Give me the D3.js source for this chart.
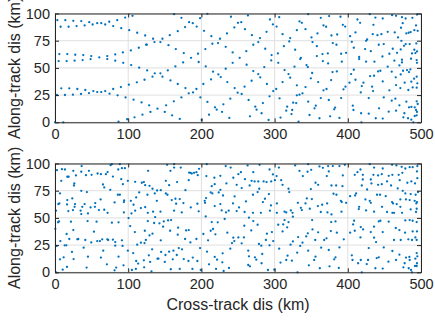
<!DOCTYPE html>
<html><head><meta charset="utf-8">
<script src="https://cdn.jsdelivr.net/npm/d3@7"></script>
<style>
body{margin:0;background:#fff}
svg{display:block}
text{font-family:"Liberation Sans",Arial,Helvetica,sans-serif}
</style>
</head><body>
<svg id="c" width="435" height="323"></svg>
<script>
const xTicks = [0, 100, 200, 300, 400, 500];
const yTicks = [0, 25, 50, 75, 100];
const xLabel = "Cross-track dis (km)";
const yLabel = "Along-track dis (km)";

// [cross-track km, along-track km]
const topPoints = [
[3.2,93.9],[14.1,93.9],[25,93.3],[35.9,93],[46.8,92],[57.7,91.1],[63.2,91.1],[74.1,92.4],[85,93.9],[95.9,96.3],[105.9,97.9],
[7.7,87.8],[18.6,87.8],[29.5,88.4],[40.5,89],[51.4,89.9],[68.6,89.9],[79.5,88.4],[90.5,86.5],[101.4,84.7],[112.3,82.3],[123.2,79.8],
[5.9,62.7],[16.8,62.7],[27.7,62.1],[38.6,61.8],[49.5,60.9],[60.5,59.6],[71.4,60.9],[82.3,62.4],[92.7,64.2],[103.6,66.1],[114.5,68.5],[124.5,71.3],
[5,56.3],[15.9,56.3],[26.8,56.6],[37.7,57.2],[48.6,58.1],[71.4,58.1],[82.3,56.6],[93.2,54.7],[104.1,52.6],[115,50.2],
[8.6,31.2],[19.5,31.2],[30.5,30.6],[41.4,29.7],[52.3,28.7],[57.7,27.8],[63.2,27.8],[68.6,28.7],[79.5,30.6],[90,32.4],[100.9,34.6],[111.8,36.7],[122.3,39.1],
[2.7,25.1],[13.6,25.1],[24.5,25.4],[35.5,26],[46.4,26.9],[74.5,26.3],[85.5,24.8],[96.4,22.9],[107.3,20.8],[118.2,18.3],
[0,0],[11.4,0],[86.8,0.6],[98.6,2.8],[108.6,4.6],[119.5,7],
[162.7,99.4],[172.7,96],[183.2,92],[188.2,91.1],[193.6,88],[198.2,95.7],[208.2,99.7],[177.7,87.5],[167.7,83.8],[156.8,80.1],[134,76.8],[135.9,73.7],[144,73.7],[146.8,76.8],[125.4,71.3],[155,70.9],[165,67.3],[175.9,63.6],[185.9,59.3],[195.4,63],[196.3,55.4],[175,55],[164.5,51.4],[154.1,47.7],[125.9,47.7],[136.3,45],[144,45],[133.2,41.9],[146.8,41.9],[157.7,38.5],[167.7,35.2],[178.2,31.5],[188.6,27.5],[193.2,30.6],[182.7,26.6],[172.7,22.9],[162.3,19.3],[151.8,15.6],[128.6,15.6],[140,12.5],[130.4,9.5],[150,9.5],[160,6.4],[170.4,3.1],[200.4,2.1],[198.6,22.9],[202.7,35.2],[203.6,84.1],[205.9,51.4],[205.4,67.3],[213.6,79.2],[215,72.2],[222.7,72.8],[225.4,76.8],[233.2,69.4],[235,81.7],[240.4,97],[245,87.2],[250,91.4],[242.7,64.2],[242.7,54.7],[252.3,59.3],[233.2,49.2],[215.9,46.5],[223.2,44],[226.4,41.6],[213.2,39.4],[235.4,37],[245.4,31.5],[249.5,27.2],[239.5,21.7],[208.2,18.7],[230,16.5],[218.6,13.8],[220.9,11.6],[210.4,7],[228.2,9.5],[238.2,4],
[263.6,98.2],[254.5,92],[293.6,94.5],[297.7,90],[306.3,96.6],[302.7,88],[259.5,85.6],[269,80.1],[280,77.4],[289,83.2],[277.7,73.7],[270.9,71.3],[287.2,67.6],[261.3,65.4],[295.9,61.8],[295.4,56.9],[304.5,63.3],[305,54.7],[261.8,52.9],[285.9,50.8],[270.9,47.1],[277.7,44.3],[280.4,41.3],[268.6,38.2],[289.5,35.2],[259,32.7],[298.1,28.7],[302.2,30.6],[293.1,23.9],[255,26],[264.5,20.5],[284,17.7],[273.6,14.4],[275.4,11.6],[282.2,8.3],[266.3,5.5],[291.8,2.1],[308.1,4.3],[306.8,22],[313.6,48],[319,44.3],[321.3,41],[310.9,37],[330.4,34],[329.5,17.7],[325.4,18],[334,25.4],[338.1,26.6],[342.2,32.4],[345.9,19],[351.3,45.3],[349.5,40.4],[345.4,50.8],[359.5,37],[370.9,30.6],[377.2,38.8],[366.8,29.4],[363.1,22.3],[374,20.5],[356.3,15.3],[354.5,12.8],[347.7,6.7],[361.3,3.7],[375.9,5.5],[332.7,0.6],[324.1,11.3],[317.2,14.4],[315.9,10.7],[323.1,7.6],[330.4,24.8],[327.2,51.1],[310.9,81],[321.3,77.4],[320,74.3],[312.7,70],[330.4,84.7],[334,92.7],[337.2,91.4],[342.2,85.6],[345.9,99.4],[350.4,78],[351.8,73.7],[357.7,70],[358.6,81.7],[363.1,96],[366.8,89],[370.4,87.8],[374.5,97.6],[377.7,79.8],[328.1,66.7],[335.9,59.3],[335,58.1],[343.6,52.6],[365.4,62.7],[372.7,63.3],[365.9,56.3],[373.1,54.1],[357.7,60.9],
[390,97],[413.2,94.5],[416.8,91.4],[430,99.4],[437.7,96.3],[435,89.6],[447.7,95.4],[460.5,98.5],[465.9,97.9],[474,96.6],[479,95.4],[488.2,96],[494.5,99],[393.2,89.6],[396.4,88],[385.5,80.7],[410.5,82.6],[426.4,76.1],[425,74.9],[434.1,81],[440.5,80.1],[445.9,81],[454.5,83.2],[464.1,82.6],[475,91.1],[472.7,86.9],[483.2,82.3],[485.9,82.9],[480,81.7],[493.2,89],[495.5,84.1],[490.9,84.7],[468.6,78],[473.2,74.9],[484.5,71.9],[479.1,71.9],[493.6,72.5],[379.5,72.8],[384.5,71.3],[403.2,79.2],[405.5,74],[423.6,67.3],[415.5,60],[415.5,58.1],[390.9,63],[397.7,63.9],[391.8,55.7],[408.2,68.5],[431.4,65.4],[442.3,71.3],[449.1,71.9],[461.4,67.6],[467.3,63.9],[472.3,67],[476.8,70.3],[490.9,66.7],[494.5,65.1],[492.3,63.6],[487.7,63.3],[456.8,63],[463.6,56.6],[474,57.5],[474,55],[486.4,58.4],[494.1,57.2],[494.5,54.7],[425,55.7],[436.4,55.7],[447.3,60.5],[454.5,51.1],[470.5,52.3],[379.1,46.2],[385,46.8],[408.2,48.3],[404.5,44.3],[410.5,39.1],[421.4,36.4],[402.3,36.4],[394.1,30.3],[396.8,32.7],[441.4,46.8],[444.5,47.4],[435.9,42.8],[430.5,42.5],[447.7,37.6],[460,46.5],[465.5,41.3],[472.3,44],[475.5,47.4],[480.9,48],[485.5,48.6],[483.6,46.2],[477.7,36.4],[486.8,37.3],[490.5,40.1],[494.1,41.9],[495,35.8],[494.1,31.8],[488.6,32.1],[482.7,29.7],[465.9,34.2],[471.8,31.5],[456.8,29.4],[449.1,22.9],[433.2,32.7],[434.5,28.7],[428.6,22.3],[417.7,27.5],[419.1,33.3],[390.9,22.3],[382.7,13.5],[381.4,11.9],[388.6,4],[406.8,15.3],[407.7,11.3],[418.2,8.3],[418.6,0],[428.6,7.9],[438.2,3.7],[442.7,12.8],[447.7,3.4],[455.9,9.8],[460,19.9],[470.5,15.6],[465,21.7],[480,19],[483.6,13.8],[486.8,14.1],[491.4,13.8],[494.1,19.3],[495.5,16.8],[493.2,11.3],[494.5,9.5],[465.9,10.7],[477.3,8.3],[475.9,4.6],[482.3,3.7],[486.8,2.4],[491.4,5.8],[494.1,6.4],[489.5,0]
];

const bottomPoints = [
[2.7,93.9],[9.5,94.8],[13.6,94.5],[16.8,87.8],[18.6,87.8],[8.6,84.1],[25,93.3],[26.4,81.7],[25.9,79.8],[28.6,89],[36.4,97.6],[35.9,92.4],[42.3,89.3],[46.4,93.3],[50,89.6],[58.2,90.8],[62.7,90.2],[69.5,90.2],[71.8,92.1],[75.9,98.5],[77.7,99.4],[79.1,88],[86.4,94.5],[91.4,95.7],[95.5,95.7],[90.5,85.6],[92.7,81],[99.5,84.1],[109.5,83.2],[118.6,82.3],[121.4,82.9],[65.5,80.7],[67.3,78],[75.5,75.8],[35.9,74.9],[43.6,73.7],[6.8,72.5],[5.9,63.3],[4.5,62.7],[16.8,66.4],[16.4,62.4],[23.6,67.9],[27.3,62.7],[40.5,62.7],[37.3,60.2],[18.2,56.3],[24.5,57.2],[26.8,60.2],[35,56.6],[35.9,53.5],[45,54.1],[48.6,59.6],[54.5,60.2],[55,63.6],[62.3,67],[60,57.2],[67.3,57.5],[71.8,54.7],[85.9,71.3],[88.6,71.3],[81.4,64.2],[94.5,66.1],[94.1,64.5],[103.6,65.7],[107.3,62.1],[115,73.4],[110.9,68.8],[117.3,59],[123.2,59.9],[94.1,55],[104.5,54.1],[109.5,56.6],[1.4,56.6],[4.1,45.9],[5.5,46.8],[0.5,40],[21.8,46.5],[44.5,47.1],[56.8,46.5],[77.7,45.6],[86.8,45.9],[100.5,49.8],[102.7,42.5],[15.9,35.2],[25,38.8],[31.8,30.6],[30.5,30.3],[19.5,30.6],[7.3,28.7],[13.2,24.8],[2.3,24.2],[15.5,24.8],[41.4,29.7],[49.5,27.5],[53.2,37.3],[57.7,28.7],[61.4,28.7],[64.5,30.3],[71.4,30.3],[72.7,29.7],[79.1,30],[82.3,27.8],[91.4,29.4],[109.1,37],[117.3,27.2],[112.3,25.4],[122.3,26.9],[92.3,24.2],[82.3,24.5],[65.9,19.9],[39.1,22.6],[23.2,18.7],[11.8,13.8],[6.8,11.9],[25.4,12.2],[45,14.4],[62.7,13.5],[86.8,14.4],[99.5,19.9],[106.8,17.7],[110.9,10.4],[113.6,8],[121.4,11],[16.4,4.9],[10.5,2.4],[1.4,0],[43.2,4.3],[70.9,7.3],[81.4,1.8],[83.6,4.3],[93.6,6.4],[105,2.1],[121.8,4.6],[110.5,3.1],[88.6,99.4],
[153.2,98.8],[162.7,99.4],[162.7,96.3],[171.8,96.3],[157.7,93.3],[127.2,93.3],[183.2,91.7],[185,91.4],[186.8,90.8],[190,91.4],[193.2,92],[195,89.3],[196.8,95.1],[207.3,99.4],[233.2,97.6],[240,96.3],[206.8,88.4],[217.7,86.9],[225.9,88.7],[234.1,81.7],[243.6,86.9],[250.5,90.2],[248.2,80.4],[214.1,79.2],[218.2,81],[225.9,75.8],[212.7,73.4],[215,72.5],[223.6,73.4],[229.5,70.6],[151.4,84.1],[155.9,80.1],[166.8,82.9],[182.7,84.7],[178.2,75.5],[123.2,80.1],[129.1,79.5],[133.2,76.8],[139.5,75.2],[144.5,75.5],[136.3,72.5],[151.4,72.5],[153.6,71.3],[126.3,71.3],[139.1,65.7],[159.5,66.4],[164.5,67.6],[170.4,67.3],[165.5,63],[175.4,63.6],[194.5,63],[185.5,59.6],[196.3,56],[173.2,55],[162.7,56.6],[144.1,55.7],[134,55.7],[126.8,54.7],[136.8,50.8],[204.5,65.7],[205,63.9],[206.4,68.2],[218.2,60.9],[225.9,62.7],[227.7,56.9],[233.6,55],[237.3,56.6],[243.2,63.3],[245.4,69.7],[251.4,59.6],[248.2,56.3],[231.8,49],[205.9,51.4],[126.8,47.1],[135.4,45.3],[142.7,45],[148.6,46.8],[154.5,47.7],[158.6,48],[147.7,41.9],[157.3,38.2],[168.2,41],[179.1,38.5],[182.7,38.8],[167.7,34.6],[177.7,30.6],[185,27.5],[193.2,30.6],[144.5,29.4],[129.1,33.9],[124.1,29.7],[122.7,38.2],[133.2,35.5],[132.7,21.1],[145,18.7],[155.9,19],[161.8,19.9],[173.6,21.1],[169.1,22.3],[198.2,22.3],[207.7,19],[218.2,14.1],[221.4,11.6],[229,17.4],[228.6,9.2],[219.1,34.9],[215.9,39.8],[212.7,38.2],[202.7,35.2],[209.1,29.4],[222.3,45.9],[214.1,46.2],[235.4,36.4],[243.6,31.8],[245,28.7],[250.5,32.1],[241.8,26.9],[239.5,21.7],[128.2,15.6],[140,12.5],[141.3,12.5],[150.9,15.9],[160.9,11.9],[166.4,15.9],[175.9,12.2],[182.3,10.4],[188.2,13.5],[194.5,10.4],[130,9.5],[150,9.5],[158.2,2.8],[170.4,3.1],[187.7,3.1],[199.1,2.1],[210.4,7.3],[220,3.1],[230.4,1.2],[237.7,4],[131.8,0.9],
[263.1,98.2],[279.5,98.8],[305.9,96.3],[293.1,94.5],[297.7,90],[254,92],[270.9,92],[259.5,85.6],[268.6,84.1],[265.9,79.8],[272.7,83.5],[277.7,83.5],[285,83.5],[289,82.9],[295.4,83.5],[302.7,88.4],[300.4,84.7],[309,84.7],[310.9,80.4],[319,76.8],[320,73.7],[328.1,98.2],[334,93.3],[338.6,88.4],[345.9,99.4],[345,92.4],[350,94.2],[361.3,97.3],[365.9,96],[373.1,97.6],[374,92.7],[371.3,88.4],[355.9,82.3],[359.5,80.4],[349.5,76.5],[255,77.4],[279,76.8],[276.8,73.7],[292.2,71.9],[270.4,71.3],[260.9,65.1],[284,64.5],[286.8,67.6],[295,61.5],[303.1,63.3],[259,55.4],[270.4,54.7],[281.3,54.7],[293.6,56.6],[303.1,54.7],[313.6,55.7],[315.9,55],[322.2,56.9],[324.5,54.7],[335.9,59.3],[337.2,57.2],[331.8,63.9],[344,67.9],[342.2,63.3],[350.9,67.3],[348.1,58.4],[359.1,60.9],[365,62.1],[371.8,63.3],[363.1,55.4],[372.2,55],[377.7,53.2],[325,51.1],[265,50.2],[270.9,47.1],[276.8,43.7],[258.6,42.8],[268.1,38.5],[289.5,35.5],[296.3,37],[288.1,29.7],[298.1,28.7],[293.1,24.8],[258.1,32.1],[255,26.6],[278.6,26],[281.8,24.5],[306.3,21.7],[305,43.7],[311.8,44],[313.6,48],[319,46.2],[317.2,41.3],[310.9,37.6],[321.8,25.4],[332.2,32.4],[325,28.4],[335,24.2],[338.1,27.2],[330.9,18],[343.2,33],[345.4,35.8],[351.3,48],[351.8,39.4],[355.5,29.7],[359.5,36.7],[363.6,22.6],[367.7,29.7],[370.9,31.2],[376.8,37.9],[374,20.5],[264,19.9],[265,14.7],[273.1,13.8],[283.1,16.8],[275,11.6],[282.2,8.3],[264,6.7],[266.3,5.5],[290.9,2.1],[299.5,2.4],[308.1,8.9],[315.9,11.3],[317.7,15.3],[323.6,10.7],[331.3,0],[346.8,6.4],[354.1,11.3],[355.9,14.4],[361.8,3.7],[375,5.5],[345.9,19.9],
[379.5,97.6],[388.6,97.6],[395.9,98.8],[393.2,89],[409.5,89.6],[413.2,92],[417.3,94.5],[420.5,89.6],[430,99.4],[435.9,96.3],[435,89.6],[441.4,89],[446.4,90.2],[447.7,95.4],[460.5,98.8],[466.4,98.2],[473.6,96.9],[474.5,91.4],[478.6,95.4],[484.5,96.6],[488.6,96.6],[495,97.6],[494.5,92.7],[460.9,89.6],[469.5,89.6],[470.9,84.7],[481.4,82.3],[486.8,83.5],[491.8,81.7],[495,86.5],[420.5,85.3],[431.4,85.3],[432.3,81.7],[441.4,80.4],[446.4,81],[453.6,83.5],[455.9,88.7],[459.1,79.8],[419.1,79.8],[426.4,76.1],[384.1,79.8],[377.7,79.8],[392.7,79.2],[468.2,77.1],[475,74.9],[478.6,72.5],[485.9,71.9],[492.7,71.3],[495.9,73.7],[411.4,72.5],[403.2,70],[410,70.6],[380.5,72.2],[384.5,71.3],[390.5,65.7],[391.8,64.5],[397.7,63.9],[424.1,67],[430,65.7],[431.4,63.9],[440,71.3],[444.1,71.3],[451.8,70],[460.5,64.5],[461.8,63.3],[466.8,62.7],[471.8,67],[479.5,67],[484.5,66.4],[491.4,65.7],[494.5,64.5],[493.6,63.3],[471.8,60.2],[415.5,60.2],[415,58.1],[425,56.9],[435.9,55.7],[446.8,60.2],[453.6,55.4],[460.9,54.7],[463.2,54.7],[474.1,54.7],[485.9,57.8],[493.2,55.4],[494.1,58.4],[391.4,55.7],[383.2,46.8],[377.3,46.2],[408.6,47.4],[407.3,44],[442.3,46.8],[444.5,47.4],[455.9,46.5],[478.6,47.7],[484.5,48],[488.6,47.4],[494.1,46.2],[385,36.4],[403.2,36.4],[409.5,38.2],[420.9,39.4],[417.7,41.6],[435.9,41.9],[431.4,37],[447.7,37],[465.5,40.7],[470.5,38.8],[478.2,36.4],[488.6,37.6],[494.5,37.6],[492.3,32.1],[494.1,29.7],[487.7,29.7],[482.7,30.3],[463.2,29.7],[472.3,29.7],[438.6,27.8],[435.9,31.8],[417.3,32.1],[394.5,30.3],[388.6,22.9],[383.2,13.8],[381.4,11.9],[405.5,15.6],[406.4,11.3],[414.1,8.3],[417.7,11.3],[419.1,0],[427.7,11.3],[425.9,7.6],[439.5,13.1],[442.3,13.8],[447.7,3.4],[437.7,3.7],[455.5,9.8],[460.9,19.6],[470.5,16.2],[479.5,13.5],[484.1,14.1],[484.5,11.3],[492.3,12.5],[494.1,17.7],[495,14.7],[494.5,8.3],[477.7,8.3],[475.9,4.6],[483.2,3.7],[486.4,2.1],[491.8,5.8],[494.1,5.8],[487.7,0],[465.9,11.3],[449.1,22.9],[428.6,22.3],[387.7,4]
];

const svg = d3.select("#c");
const L = 55, R = 421;
const axisColor = "#262626";
const gridColor = "#dfdfdf";
const dotColor = "#0072BD";

const panels = [
  {pts: topPoints, top: 13.5, bottom: 122.3},
  {pts: bottomPoints, top: 163.5, bottom: 272.3}
];

panels.forEach(p => {
  const x = d3.scaleLinear().domain([0, 500]).range([L, R]);
  const y = d3.scaleLinear().domain([0, 100]).range([p.bottom, p.top]);
  const g = svg.append("g");

  // grid
  g.append("g").selectAll("line").data(xTicks).join("line")
    .attr("x1", d => x(d)).attr("x2", d => x(d))
    .attr("y1", p.top).attr("y2", p.bottom)
    .attr("stroke", gridColor).attr("stroke-width", 1);
  g.append("g").selectAll("line").data(yTicks).join("line")
    .attr("y1", d => y(d)).attr("y2", d => y(d))
    .attr("x1", L).attr("x2", R)
    .attr("stroke", gridColor).attr("stroke-width", 1);

  // points
  g.append("g").selectAll("circle").data(p.pts).join("circle")
    .attr("cx", d => x(d[0])).attr("cy", d => y(d[1]))
    .attr("r", 1.15).attr("fill", dotColor);

  // axes
  const styleAxis = (sel, showText) => {
    sel.select(".domain").attr("stroke", axisColor).attr("stroke-width", 1);
    sel.selectAll(".tick line").attr("stroke", axisColor).attr("stroke-width", 1);
    sel.selectAll(".tick text").attr("fill", axisColor).style("font-size", "14.5px")
      .style("font-family", '"Liberation Sans", Arial, sans-serif');
    if (!showText) sel.selectAll(".tick text").remove();
  };
  g.append("g").attr("transform", `translate(0,${p.bottom})`)
    .call(d3.axisBottom(x).tickValues(xTicks).tickSizeInner(-4).tickSizeOuter(0).tickPadding(6.5))
    .call(s => styleAxis(s, true));
  g.append("g").attr("transform", `translate(0,${p.top})`)
    .call(d3.axisTop(x).tickValues(xTicks).tickSizeInner(-4).tickSizeOuter(0))
    .call(s => styleAxis(s, false));
  g.append("g").attr("transform", `translate(${L},0)`)
    .call(d3.axisLeft(y).tickValues(yTicks).tickSizeInner(-4).tickSizeOuter(0).tickPadding(5))
    .call(s => styleAxis(s, true));
  g.append("g").attr("transform", `translate(${R},0)`)
    .call(d3.axisRight(y).tickValues(yTicks).tickSizeInner(-4).tickSizeOuter(0))
    .call(s => styleAxis(s, false));

  // y label
  svg.append("text")
    .attr("transform", `translate(20,${(p.top + p.bottom) / 2}) rotate(-90)`)
    .attr("text-anchor", "middle")
    .attr("fill", axisColor)
    .style("font-size", "16px")
    .text(yLabel);
});

svg.append("text")
  .attr("x", (L + R) / 2).attr("y", 309.5)
  .attr("text-anchor", "middle")
  .attr("fill", axisColor)
  .style("font-size", "16px")
  .text(xLabel);
</script>
</body></html>
